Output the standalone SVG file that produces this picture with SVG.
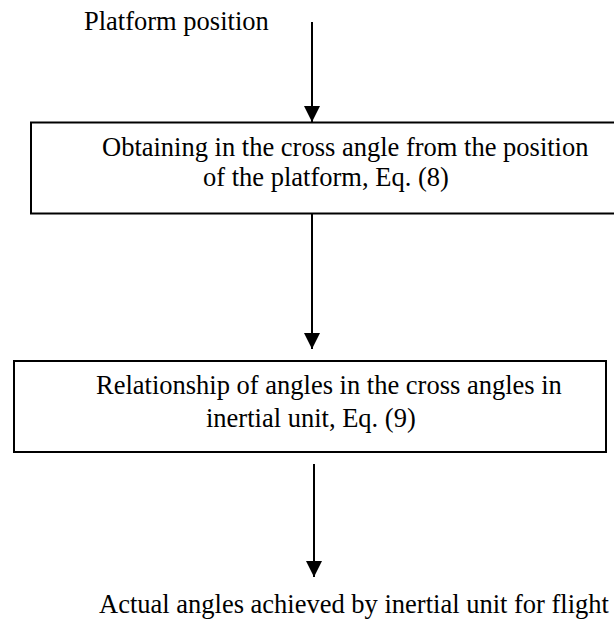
<svg xmlns="http://www.w3.org/2000/svg" width="614" height="622" viewBox="0 0 614 622">
  <style>
    .box { fill: #ffffff; stroke: #000000; stroke-width: 2; }
    .lbl { font-family: "Liberation Serif", "Times New Roman", serif; font-size: 26.5px; fill: #000000; }
    .flow { stroke: #000000; stroke-width: 2; fill: none; marker-end: url(#head); }
  </style>
  <defs>
    <marker id="head" viewBox="0 0 16 16" refX="16" refY="8" markerWidth="16" markerHeight="16" markerUnits="userSpaceOnUse" orient="auto">
      <path d="M0,0 L16,8 L0,16 Z" fill="#000000"/>
    </marker>
  </defs>
  <rect width="614" height="622" fill="#ffffff"/>

  <g id="input">
    <text class="lbl" x="84" y="30">Platform position</text>
  </g>

  <g id="cross-angle">
    <rect class="box" x="31" y="122.5" width="590" height="91"/>
    <text class="lbl" x="102" y="156">Obtaining in the cross angle from the position</text>
    <text class="lbl" x="203" y="186">of the platform, Eq. (8)</text>
  </g>

  <g id="angle-relation">
    <rect class="box" x="14" y="361" width="592" height="91"/>
    <text class="lbl" x="96" y="394">Relationship of angles in the cross angles in</text>
    <text class="lbl" x="206" y="427">inertial unit, Eq. (9)</text>
  </g>

  <g id="output">
    <text class="lbl" x="99" y="613">Actual angles achieved by inertial unit for flight</text>
  </g>

  <g id="connectors">
    <line class="flow" x1="312" y1="22" x2="312" y2="122"/>
    <line class="flow" x1="312" y1="214" x2="312" y2="349"/>
    <line class="flow" x1="314" y1="464" x2="314" y2="577"/>
  </g>
</svg>
